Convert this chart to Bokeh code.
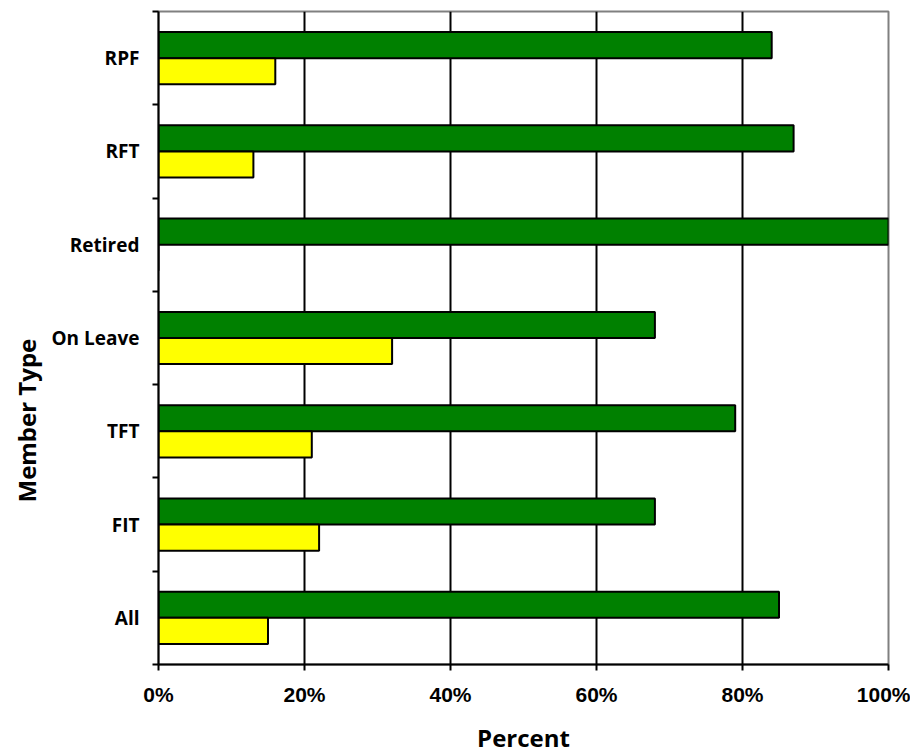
from bokeh.plotting import figure
from bokeh.models import (Range1d, FixedTicker, NumeralTickFormatter, ColumnDataSource, Title)
from bokeh.embed import file_html
from bokeh.resources import INLINE

categories = ["All", "FIT", "TFT", "On Leave", "Retired", "RFT", "RPF"]
green_vals = [0.85, 0.68, 0.79, 0.68, 1.00, 0.87, 0.84]
yellow_vals = [0.15, 0.22, 0.21, 0.32, 0.00, 0.13, 0.16]
x_ticks = [0, 0.2, 0.4, 0.6, 0.8, 1.0]

n = len(categories)
centers = [i + 0.5 for i in range(n)]
bar_h = 0.28

p = figure(width=910, height=756, output_backend="svg", toolbar_location=None,
           x_range=Range1d(0, 1), y_range=Range1d(0, n),
           min_border_left=158, min_border_top=11, min_border_right=22,
           min_border_bottom=91,
           background_fill_color="white", border_fill_color="white")

src_g = ColumnDataSource(dict(y=[c + bar_h / 2 for c in centers], right=green_vals))
src_y = ColumnDataSource(dict(y=[c - bar_h / 2 for c in centers], right=yellow_vals))
p.hbar(y="y", left=0, right="right", height=bar_h, source=src_g,
       fill_color="#008000", line_color="black", line_width=2)
p.hbar(y="y", left=0, right="right", height=bar_h, source=src_y,
       fill_color="#FFFF00", line_color="black", line_width=2)

p.outline_line_color = "#808080"
p.outline_line_width = 2

# x axis
xa = p.xaxis[0]
xa.ticker = FixedTicker(ticks=x_ticks)
xa.formatter = NumeralTickFormatter(format="0%")
xa.axis_line_color = "black"
xa.axis_line_width = 2
xa.major_tick_line_color = "black"
xa.major_tick_line_width = 2
xa.major_tick_out = 6
xa.major_tick_in = 0
xa.minor_tick_line_color = None
xa.major_label_text_font = "Liberation Sans"
xa.major_label_text_font_style = "bold"
xa.major_label_text_font_size = "21px"
xa.major_label_text_color = "black"
xa.major_label_standoff = 12
xa.axis_label = "Percent"
xa.axis_label_text_font = "Open Sans"
xa.axis_label_text_font_style = "bold"
xa.axis_label_text_font_size = "24px"
xa.axis_label_text_color = "black"
xa.axis_label_standoff = 12

# y axis
ya = p.yaxis[0]
ya.ticker = FixedTicker(ticks=centers, minor_ticks=list(range(n + 1)))
ya.major_label_overrides = {c: cat for c, cat in zip(centers, categories)}
ya.axis_line_color = "black"
ya.axis_line_width = 2
ya.major_tick_line_color = None
ya.major_tick_out = 0
ya.major_tick_in = 0
ya.minor_tick_line_color = "black"
ya.minor_tick_line_width = 2
ya.minor_tick_out = 6
ya.minor_tick_in = 0
ya.major_label_text_font = "Open Sans"
ya.major_label_text_font_style = "bold"
ya.major_label_text_font_size = "19px"
ya.major_label_text_color = "black"
ya.major_label_standoff = 13

ytitle = Title(text="Member Type", align="left", offset=162, standoff=12,
               text_font="Open Sans", text_font_style="bold",
               text_font_size="24px", text_color="black")
p.add_layout(ytitle, "left")

p.xgrid.ticker = FixedTicker(ticks=[0.2, 0.4, 0.6, 0.8])
p.xgrid.grid_line_color = "black"
p.xgrid.grid_line_width = 2
p.ygrid.grid_line_color = None

open("out.html", "w").write(file_html(p, INLINE))
